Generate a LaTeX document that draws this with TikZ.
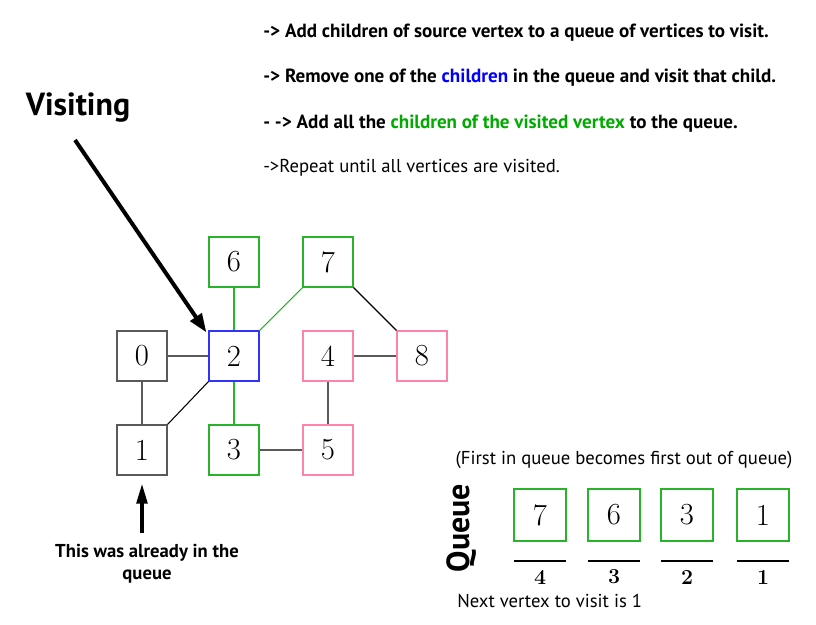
\documentclass[tikz,border=0pt]{standalone}
\usepackage{fontspec}
\setsansfont{PT Sans}
\usepackage{tikz}
\usetikzlibrary{arrows.meta,positioning}

\definecolor{vgreen}{RGB}{40,180,40}
\definecolor{tgreen}{RGB}{0,170,0}
\definecolor{vblue}{RGB}{50,50,255}
\definecolor{vpink}{RGB}{255,130,170}
\definecolor{vgray}{RGB}{90,90,90}

\tikzset{
    vbox/.style={draw=#1, line width=0.9pt, minimum size=37.5pt, inner sep=0pt, font=\fontsize{23}{23}\selectfont},
    qslot/.style={draw=vgreen, line width=0.9pt, minimum size=39pt, inner sep=0pt, font=\fontsize{23}{23}\selectfont},
    edge/.style={draw=#1, line width=0.8pt},
    note/.style={font=\sffamily\bfseries\fontsize{14.3}{16}\selectfont, anchor=west, inner sep=0pt},
    plain/.style={font=\sffamily\fontsize{14}{16}\selectfont, inner sep=0pt},
    bigarrow/.style={line width=3pt, -{Triangle[length=14pt,width=10pt]}}
}

\begin{document}
\begin{tikzpicture}[x=0.75pt,y=-0.75pt]
            \useasboundingbox (0,0) rectangle (816,624);
            % steps
            \node[note] (s1) at (263,33) {-> Add children of source vertex to a queue of vertices to visit.};
            \node[note] (s2) at (263,78) {-> Remove one of the \textcolor{blue}{children} in the queue and visit that child.};
            \node[note] (s3) at (263,124) {- -> Add all the \textcolor{tgreen}{children of the visited vertex} to the queue.};
            \node[plain, anchor=west] (s4) at (263,168) {->Repeat until all vertices are visited.};
            % graph
            \node[vbox=vgray] (v0) at (142,356) {0};
            \node[vbox=vblue] (v2) at (234,356) {2};
            \node[vbox=vgreen] (v6) at (234,262) {6};
            \node[vbox=vgreen] (v7) at (328,262) {7};
            \node[vbox=vpink] (v4) at (328,356) {4};
            \node[vbox=vpink] (v8) at (422,356) {8};
            \node[vbox=vgray] (v1) at (142,450) {1};
            \node[vbox=vgreen] (v3) at (234,450) {3};
            \node[vbox=vpink] (v5) at (328,450) {5};
            \draw[edge=vgray] (v0) -- (v2);
            \draw[edge=vgray] (v0) -- (v1);
            \draw[edge=black] (v1.north east) -- (v2.south west);
            \draw[edge=vgreen] (v2) -- (v6);
            \draw[edge=vgreen] (v2.north east) -- (v7.south west);
            \draw[edge=vgreen] (v2) -- (v3);
            \draw[edge=vgray] (v3) -- (v5);
            \draw[edge=vgray] (v4) -- (v5);
            \draw[edge=vgray] (v4) -- (v8);
            \draw[edge=black] (v7.south east) -- (v8.north west);
            % visiting
            \node[font=\sffamily\bfseries\fontsize{24}{26}\selectfont] (vis) at (78,108) {Visiting};
            \coordinate (vstart) at (75,140);
            \draw[bigarrow] (vstart) -- ([shift={(-1.5pt,-1.5pt)}]v2.north west);
            \node[font=\sffamily\bfseries\fontsize{14}{16.5}\selectfont, align=center] (already) at (147,564) {This was already in the\\queue};
            \coordinate (astart) at (142,533);
            \draw[line width=2.6pt, -{Triangle[length=15pt,width=8pt]}] (astart) -- ([yshift=-6pt]v1.south);
            % queue
            \node[plain] (fifo) at (624,460) {(First in queue becomes first out of queue)};
            \node[font=\sffamily\bfseries\fontsize{24}{26}\selectfont, rotate=90] (qlabel) at (462,528) {Queue};
            \foreach \v/\i/\x in {7/4/540, 6/3/614, 3/2/687, 1/1/763} {
                \node[qslot] (q\i) at (\x,515) {\v};
                \draw[line width=0.9pt] ([xshift=-19.5pt]\x,561) -- ([xshift=19.5pt]\x,561);
                \node[font=\bfseries\fontsize{16}{16}\selectfont] (n\i) at (\x,577) {\i};
            }
            \node[plain, anchor=west] (next) at (457,601) {Next vertex to visit is 1};
        \end{tikzpicture}
\end{document}
